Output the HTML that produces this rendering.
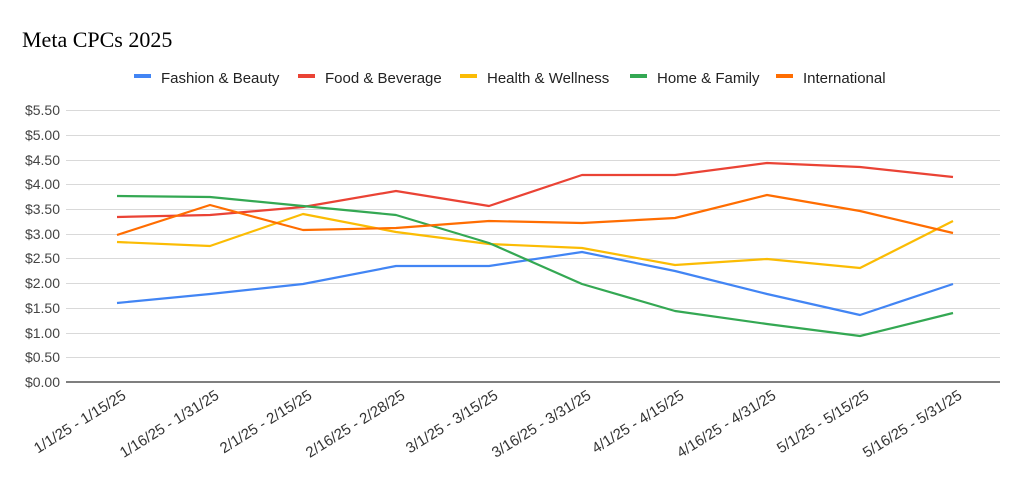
<!DOCTYPE html>
<html><head><meta charset="utf-8"><style>
body{margin:0;background:#fff;}
svg{display:block;font-family:"Liberation Sans",Arial,sans-serif;}
</style></head><body>
<svg width="1024" height="478" viewBox="0 0 1024 478" xmlns="http://www.w3.org/2000/svg">
<rect width="1024" height="478" fill="#fff"/>
<text x="22" y="47" font-family="Liberation Serif,serif" font-size="22" fill="#000">Meta CPCs 2025</text>
<g font-size="15" fill="#222">
<rect x="134" y="74" width="17" height="4" fill="#4285f4"/><text x="161" y="83">Fashion &amp; Beauty</text>
<rect x="298" y="74" width="17" height="4" fill="#ea4335"/><text x="325" y="83">Food &amp; Beverage</text>
<rect x="460" y="74" width="17" height="4" fill="#fbbc04"/><text x="487" y="83">Health &amp; Wellness</text>
<rect x="630" y="74" width="17" height="4" fill="#34a853"/><text x="657" y="83">Home &amp; Family</text>
<rect x="776" y="74" width="17" height="4" fill="#ff6d01"/><text x="803" y="83">International</text>
</g>
<g stroke="#d9d9d9" stroke-width="1">
<line x1="66" x2="1000" y1="110.5" y2="110.5"/><line x1="66" x2="1000" y1="135.5" y2="135.5"/>
<line x1="66" x2="1000" y1="160.5" y2="160.5"/><line x1="66" x2="1000" y1="184.5" y2="184.5"/>
<line x1="66" x2="1000" y1="209.5" y2="209.5"/><line x1="66" x2="1000" y1="234.5" y2="234.5"/>
<line x1="66" x2="1000" y1="258.5" y2="258.5"/><line x1="66" x2="1000" y1="283.5" y2="283.5"/>
<line x1="66" x2="1000" y1="308.5" y2="308.5"/><line x1="66" x2="1000" y1="333.5" y2="333.5"/>
<line x1="66" x2="1000" y1="357.5" y2="357.5"/>
</g>
<line x1="66" x2="1000" y1="382" y2="382" stroke="#333" stroke-width="1.3"/>
<g font-size="14" fill="#444" text-anchor="end">
<text x="60" y="115">$5.50</text><text x="60" y="140">$5.00</text><text x="60" y="165">$4.50</text>
<text x="60" y="189">$4.00</text><text x="60" y="214">$3.50</text><text x="60" y="239">$3.00</text>
<text x="60" y="263">$2.50</text><text x="60" y="288">$2.00</text><text x="60" y="313">$1.50</text>
<text x="60" y="338">$1.00</text><text x="60" y="362">$0.50</text><text x="60" y="387">$0.00</text>
</g>
<g font-size="15" fill="#333" text-anchor="end">
<text transform="translate(127,398) rotate(-32)">1/1/25 - 1/15/25</text>
<text transform="translate(220,398) rotate(-32)">1/16/25 - 1/31/25</text>
<text transform="translate(313,398) rotate(-32)">2/1/25 - 2/15/25</text>
<text transform="translate(406,398) rotate(-32)">2/16/25 - 2/28/25</text>
<text transform="translate(499,398) rotate(-32)">3/1/25 - 3/15/25</text>
<text transform="translate(592,398) rotate(-32)">3/16/25 - 3/31/25</text>
<text transform="translate(685,398) rotate(-32)">4/1/25 - 4/15/25</text>
<text transform="translate(777,398) rotate(-32)">4/16/25 - 4/31/25</text>
<text transform="translate(870,398) rotate(-32)">5/1/25 - 5/15/25</text>
<text transform="translate(963,398) rotate(-32)">5/16/25 - 5/31/25</text>
</g>
<g fill="none" stroke-width="2.2" stroke-linejoin="round">
<polyline stroke="#4285f4" points="117,303 210,294 303,284 396,266 489,266 582,252 675,271 767,294 860,315 953,284"/>
<polyline stroke="#ea4335" points="117,217 210,215 303,207 396,191 489,206 582,175 675,175 767,163 860,167 953,177"/>
<polyline stroke="#fbbc04" points="117,242 210,246 303,214 396,232 489,244 582,248 675,265 767,259 860,268 953,221"/>
<polyline stroke="#34a853" points="117,196 210,197 303,206 396,215 489,243 582,284 675,311 767,324 860,336 953,313"/>
<polyline stroke="#ff6d01" points="117,235 210,205 303,230 396,228 489,221 582,223 675,218 767,195 860,211 953,233"/>
</g>
</svg>
</body></html>
